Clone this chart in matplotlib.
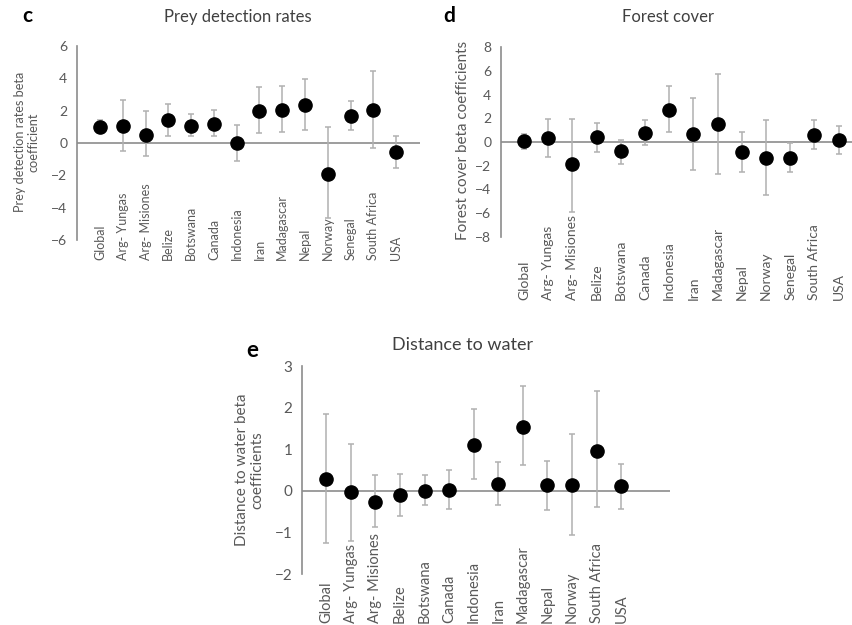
import numpy as np
import matplotlib
matplotlib.use("Agg")
import matplotlib.pyplot as plt
import matplotlib.transforms as mtransforms

plt.rcParams['font.family'] = ['Lato', 'DejaVu Sans']

# ---- data ----
sites_cd = ['Global', 'Arg- Yungas', 'Arg- Misiones', 'Belize', 'Botswana', 'Canada',
            'Indonesia', 'Iran', 'Madagascar', 'Nepal', 'Norway', 'Senegal',
            'South Africa', 'USA']
sites_e = ['Global', 'Arg- Yungas', 'Arg- Misiones', 'Belize', 'Botswana', 'Canada',
           'Indonesia', 'Iran', 'Madagascar', 'Nepal', 'Norway', 'South Africa', 'USA']

prey_beta = [0.99, 1.03, 0.51, 1.40, 1.07, 1.19, 0.00, 2.01, 2.05, 2.32, -1.89, 1.64, 2.05, -0.55]
prey_hi = [1.40, 2.67, 1.95, 2.40, 1.79, 2.05, 1.13, 3.49, 3.55, 3.96, 0.99, 2.57, 4.46, 0.41]
prey_lo = [0.60, -0.51, -0.82, 0.45, 0.41, 0.41, -1.13, 0.62, 0.68, 0.82, -4.62, 0.82, -0.31, -1.54]

forest_beta = [0.06, 0.37, -1.88, 0.42, -0.79, 0.76, 2.72, 0.70, 1.49, -0.87, -1.32, -1.32, 0.62, 0.14]
forest_hi = [0.70, 1.97, 1.97, 1.63, 0.20, 1.83, 4.72, 3.74, 5.70, 0.84, 1.83, -0.08, 1.83, 1.35]
forest_lo = [-0.56, -1.26, -5.90, -0.84, -1.83, -0.28, 0.84, -2.39, -2.67, -2.53, -4.47, -2.53, -0.56, -0.98]

water_beta = [0.28, -0.04, -0.26, -0.11, 0.00, 0.02, 1.10, 0.16, 1.53, 0.13, 0.13, 0.96, 0.11]
water_hi = [1.84, 1.12, 0.37, 0.41, 0.38, 0.49, 1.96, 0.69, 2.51, 0.72, 1.36, 2.39, 0.65]
water_lo = [-1.25, -1.21, -0.88, -0.61, -0.35, -0.43, 0.29, -0.34, 0.61, -0.47, -1.07, -0.39, -0.43]

W, H = 852, 625
fig = plt.figure(figsize=(W / 100, H / 100), dpi=100)

AXIS_GREY = '#8c8c8c'
BAR_GREY = '#b0b0b0'
TEXT_GREY = '#595959'


def px_rect(left, top, right, bottom):
    # pixel box -> figure fraction rect
    return [left / W, 1 - bottom / H, (right - left) / W, (bottom - top) / H]


def panel(rect, xlim, ylim, yticks, names, beta, hi, lo, label_y, fs, tick_fs=10):
    ax = fig.add_axes(rect)
    x = np.arange(len(names))
    beta = np.array(beta)
    yerr = [beta - np.array(lo), np.array(hi) - beta]
    ax.errorbar(x, beta, yerr=yerr, fmt='o', color='black', ms=9.5,
                ecolor=BAR_GREY, elinewidth=1.1, capsize=2.5, capthick=1.1, zorder=3)
    ax.axhline(0, color=AXIS_GREY, lw=1.2, zorder=1)
    ax.set_xlim(*xlim)
    ax.set_ylim(*ylim)
    ax.set_yticks(yticks)
    ax.set_xticks([])
    for s in ['top', 'right', 'bottom']:
        ax.spines[s].set_visible(False)
    ax.spines['left'].set_color(AXIS_GREY)
    ax.spines['left'].set_linewidth(1.2)
    ax.tick_params(axis='y', length=0, pad=7, labelsize=tick_fs, labelcolor=TEXT_GREY)
    # category names start at a common baseline below the plot, reading upwards
    trans = mtransforms.blended_transform_factory(ax.transData, fig.transFigure)
    for i, name in enumerate(names):
        ax.text(i, 1 - label_y / H, name, rotation=90, ha='center', va='bottom',
                fontsize=fs, color=TEXT_GREY, transform=trans, clip_on=False)
    return ax


# c: prey detection rates
panel(px_rect(77, 46, 420, 240), (-1.01, 14.05), (-6, 6), np.arange(-6, 7, 2),
      sites_cd, prey_beta, prey_hi, prey_lo, 260, 9)
fig.text(238 / W, 1 - 17 / H, 'Prey detection rates', ha='center', va='center',
         fontsize=12, color='#404040')
fig.text(27 / W, 1 - 16 / H, 'c', ha='center', va='center', fontsize=15,
         fontweight='bold', color='black')
fig.text(27 / W, 1 - 142 / H, 'Prey detection rates beta\ncoefficient', rotation=90,
         ha='center', va='center', fontsize=9.2, color=TEXT_GREY, linespacing=1.1)

# d: forest cover
panel(px_rect(501, 47, 852, 237), (-0.95, 13.55), (-8, 8), np.arange(-8, 9, 2),
      sites_cd, forest_beta, forest_hi, forest_lo, 300, 10)
fig.text(668 / W, 1 - 17 / H, 'Forest cover', ha='center', va='center',
         fontsize=12, color='#404040')
fig.text(449 / W, 1 - 16 / H, 'd', ha='center', va='center', fontsize=15,
         fontweight='bold', color='black')
fig.text(463 / W, 1 - 140 / H, 'Forest cover beta coefficients', rotation=90,
         ha='center', va='center', fontsize=11, color=TEXT_GREY)

# e: distance to water
panel(px_rect(302, 366, 670, 574), (-0.98, 13.98), (-2, 3), np.arange(-2, 4, 1),
      sites_e, water_beta, water_hi, water_lo, 623, 10.5, tick_fs=11)
fig.text(463 / W, 1 - 345 / H, 'Distance to water', ha='center', va='center',
         fontsize=13, color='#404040')
fig.text(252 / W, 1 - 350 / H, 'e', ha='center', va='center', fontsize=16,
         fontweight='bold', color='black')
fig.text(250 / W, 1 - 470 / H, 'Distance to water beta\ncoefficients', rotation=90,
         ha='center', va='center', fontsize=11, color=TEXT_GREY, linespacing=1.1)

fig.savefig('out.png', dpi=100)
